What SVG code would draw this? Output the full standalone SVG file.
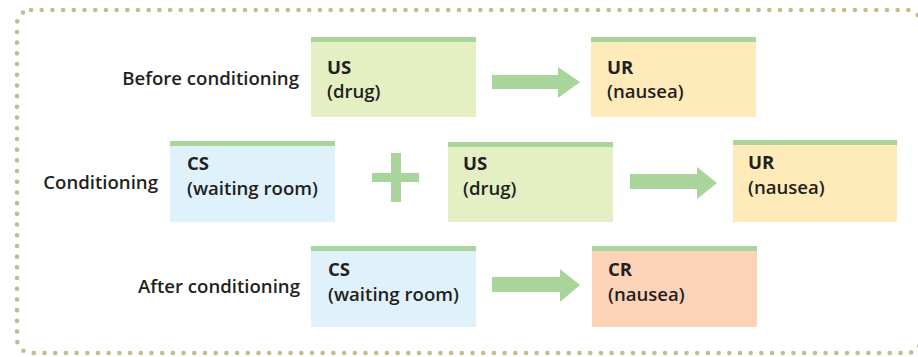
<svg xmlns="http://www.w3.org/2000/svg" width="918" height="357" viewBox="0 0 918 357">
<style>
text{font-family:"Open Sans","Noto Sans","Liberation Sans",sans-serif;fill:#231f20;font-size:18.6px;font-weight:600}
.t{font-weight:bold}
.bar{fill:#a9d59c}
.us{fill:#e5efc4}
.ur{fill:#feebb9}
.cs{fill:#dff1fb}
.cr{fill:#fdd3b7}
.arr{fill:#a9d59c}
</style>
<rect x="17" y="10" width="904" height="343" rx="14" fill="none" stroke="#c4bc8c" stroke-width="4.6" stroke-linecap="round" stroke-dasharray="0 10.7"/>
<g id="labels">
<text x="299" y="85" text-anchor="end">Before conditioning</text>
<text x="158" y="189" text-anchor="end">Conditioning</text>
<text x="300" y="293" text-anchor="end">After conditioning</text>
</g>
<g id="us1">
<rect class="us" x="311" y="37" width="165" height="80"/>
<rect class="bar" x="311" y="37" width="165" height="5"/>
<text class="t" x="327" y="74">US</text>
<text x="327" y="98">(drug)</text>
</g>
<g id="ur1">
<rect class="ur" x="591" y="37" width="165" height="80"/>
<rect class="bar" x="591" y="37" width="165" height="5"/>
<text class="t" x="607" y="74">UR</text>
<text x="607" y="98">(nausea)</text>
</g>
<g id="cs2">
<rect class="cs" x="170" y="141" width="165" height="81"/>
<rect class="bar" x="170" y="141" width="165" height="5"/>
<text class="t" x="187" y="170">CS</text>
<text x="187" y="195">(waiting room)</text>
</g>
<g id="plus">
<rect class="arr" x="372" y="173" width="47" height="9"/>
<rect class="arr" x="391" y="153" width="10" height="49"/>
</g>
<g id="us2">
<rect class="us" x="448" y="142" width="165" height="80"/>
<rect class="bar" x="448" y="142" width="165" height="5"/>
<text class="t" x="463" y="170">US</text>
<text x="463" y="195">(drug)</text>
</g>
<g id="ur2">
<rect class="ur" x="733" y="140" width="164" height="82"/>
<rect class="bar" x="733" y="140" width="164" height="5"/>
<text class="t" x="748" y="169">UR</text>
<text x="748" y="194">(nausea)</text>
</g>
<g id="cs3">
<rect class="cs" x="311" y="246" width="165" height="81"/>
<rect class="bar" x="311" y="246" width="165" height="5"/>
<text class="t" x="328" y="276">CS</text>
<text x="328" y="301">(waiting room)</text>
</g>
<g id="cr3">
<rect class="cr" x="592" y="246" width="165" height="81"/>
<rect class="bar" x="592" y="246" width="165" height="5"/>
<text class="t" x="608" y="276">CR</text>
<text x="608" y="301">(nausea)</text>
</g>
<g id="connectors">
<polygon class="arr" points="492,75 558,75 558,67 580,82 558,98 558,89 492,89"/>
<polygon class="arr" points="630,174 697,174 697,167 717,183 697,199 697,189 630,189"/>
<polygon class="arr" points="492,277 560,277 560,269 580,285 560,302 560,292 492,292"/>
</g>
</svg>
